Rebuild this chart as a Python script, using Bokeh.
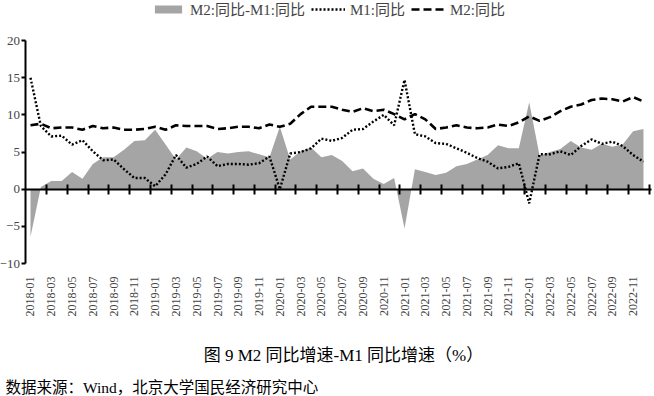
from math import pi
from bokeh.plotting import figure
from bokeh.models import (Range1d, LinearAxis, FixedTicker, Legend, LegendItem,
                          Label, ColumnDataSource)
from bokeh.embed import file_html
from bokeh.resources import INLINE

# ---------------- data ----------------
months = [f"{y}-{m:02d}" for y in range(2018, 2023) for m in range(1, 13)]

m1_yoy = [15.0, 8.5, 7.1, 7.2, 6.0, 6.6, 5.1, 3.9, 4.0, 2.7, 1.5, 1.5,
          0.4, 2.0, 4.6, 2.9, 3.4, 4.4, 3.1, 3.4, 3.4, 3.3, 3.5, 4.4,
          0.0, 4.8, 5.0, 5.5, 6.8, 6.5, 6.9, 8.0, 8.1, 9.1, 10.0, 8.6,
          14.7, 7.4, 7.1, 6.2, 6.1, 5.5, 4.9, 4.2, 3.7, 2.8, 3.0, 3.5,
          -1.9, 4.7, 4.7, 5.1, 4.6, 5.8, 6.7, 6.1, 6.4, 5.8, 4.6, 3.7]

m2_yoy = [8.6, 8.8, 8.2, 8.3, 8.3, 8.0, 8.5, 8.2, 8.3, 8.0, 8.0, 8.1,
          8.4, 8.0, 8.6, 8.5, 8.5, 8.5, 8.1, 8.2, 8.4, 8.4, 8.2, 8.7,
          8.4, 8.8, 10.1, 11.1, 11.1, 11.1, 10.7, 10.4, 10.9, 10.5, 10.7, 10.1,
          9.4, 10.1, 9.4, 8.1, 8.3, 8.6, 8.3, 8.2, 8.3, 8.7, 8.5, 9.0,
          9.8, 9.2, 9.7, 10.5, 11.1, 11.4, 12.0, 12.2, 12.1, 11.8, 12.4, 11.8]

y_ticks = [-10, -5, 0, 5, 10, 15, 20]

legend_labels = ["M2:同比-M1:同比", "M1:同比", "M2:同比"]
title_text = "图 9 M2 同比增速-M1 同比增速（%）"
source_text = "数据来源：Wind，北京大学国民经济研究中心"

# ---------------- derived ----------------
idx = list(range(len(months)))
diff = [round(a - b, 2) for a, b in zip(m2_yoy, m1_yoy)]
zero = [0] * len(idx)
src = ColumnDataSource(dict(x=idx, m1=m1_yoy, m2=m2_yoy, diff=diff, zero=zero))

SERIF = "'Liberation Serif', serif"
MIX = "'Liberation Serif', 'Noto Sans CJK SC'"

Y_MIN, Y_MAX = y_ticks[0], y_ticks[-1]
X_AXIS_POS = -0.44          # where the value axis crosses the category axis

# frame covers the whole canvas; axes are drawn at fixed locations
p = figure(width=654, height=396, output_backend="svg", toolbar_location=None,
           x_range=Range1d(-2.887, 60.06), y_range=Range1d(-27.89, 25.39),
           x_axis_type=None, y_axis_type=None,
           min_border_left=0, min_border_right=0,
           min_border_top=0, min_border_bottom=0)
p.outline_line_color = None
p.background_fill_color = "white"
p.border_fill_color = "white"

area = p.varea(x="x", y1="zero", y2="diff", source=src,
               fill_color="#A5A5A5", fill_alpha=1.0)
l1 = p.line("x", "m1", source=src, line_color="black", line_width=2.4,
            line_dash="2 2")
l2 = p.line("x", "m2", source=src, line_color="black", line_width=2.6,
            line_dash="8 4")

# left value axis
yax = LinearAxis(fixed_location=X_AXIS_POS, bounds=(Y_MIN, Y_MAX),
                 ticker=FixedTicker(ticks=y_ticks),
                 major_tick_out=4, major_tick_in=0,
                 minor_tick_line_color=None,
                 axis_line_width=2, major_tick_line_width=2,
                 major_label_text_font=SERIF,
                 major_label_text_font_size="13px",
                 major_label_standoff=2)
p.add_layout(yax, "left")

# zero line with tick marks between month pairs
tick_pos = [i + 1.55 for i in idx[::2]]
zax = LinearAxis(fixed_location=0, bounds=(X_AXIS_POS, 59.75),
                 ticker=FixedTicker(ticks=tick_pos),
                 major_tick_in=5, major_tick_out=5,
                 minor_tick_line_color=None,
                 axis_line_width=2, major_tick_line_width=2,
                 major_label_text_color=None)
p.add_layout(zax, "below")

# month labels under the plot
label_ticks = idx[::2]
xax = LinearAxis(fixed_location=Y_MIN, ticker=FixedTicker(ticks=label_ticks),
                 major_label_overrides={i: months[i] for i in label_ticks},
                 axis_line_color=None, major_tick_line_color=None,
                 minor_tick_line_color=None,
                 major_label_orientation=pi / 2,
                 major_label_text_font=SERIF,
                 major_label_text_font_size="12px",
                 major_label_standoff=7)
p.add_layout(xax, "below")

legend = Legend(items=[LegendItem(label=legend_labels[0], renderers=[area]),
                       LegendItem(label=legend_labels[1], renderers=[l1]),
                       LegendItem(label=legend_labels[2], renderers=[l2])],
                orientation="horizontal", location=(151, 377),
                glyph_width=34, glyph_height=10, label_height=14,
                label_standoff=5, spacing=6, padding=0, margin=0,
                border_line_color=None, background_fill_alpha=0,
                label_text_font=MIX, label_text_font_size="15px")
p.add_layout(legend, "center")

p.add_layout(Label(x=343, y=41, x_units="screen", y_units="screen",
                   text=title_text, text_align="center", text_baseline="middle",
                   text_font=MIX, text_font_size="17px", text_color="black"))
p.add_layout(Label(x=5, y=9, x_units="screen", y_units="screen",
                   text=source_text, text_align="left", text_baseline="middle",
                   text_font=MIX, text_font_size="15.5px", text_color="black"))

open("out.html", "w").write(file_html(p, INLINE))
